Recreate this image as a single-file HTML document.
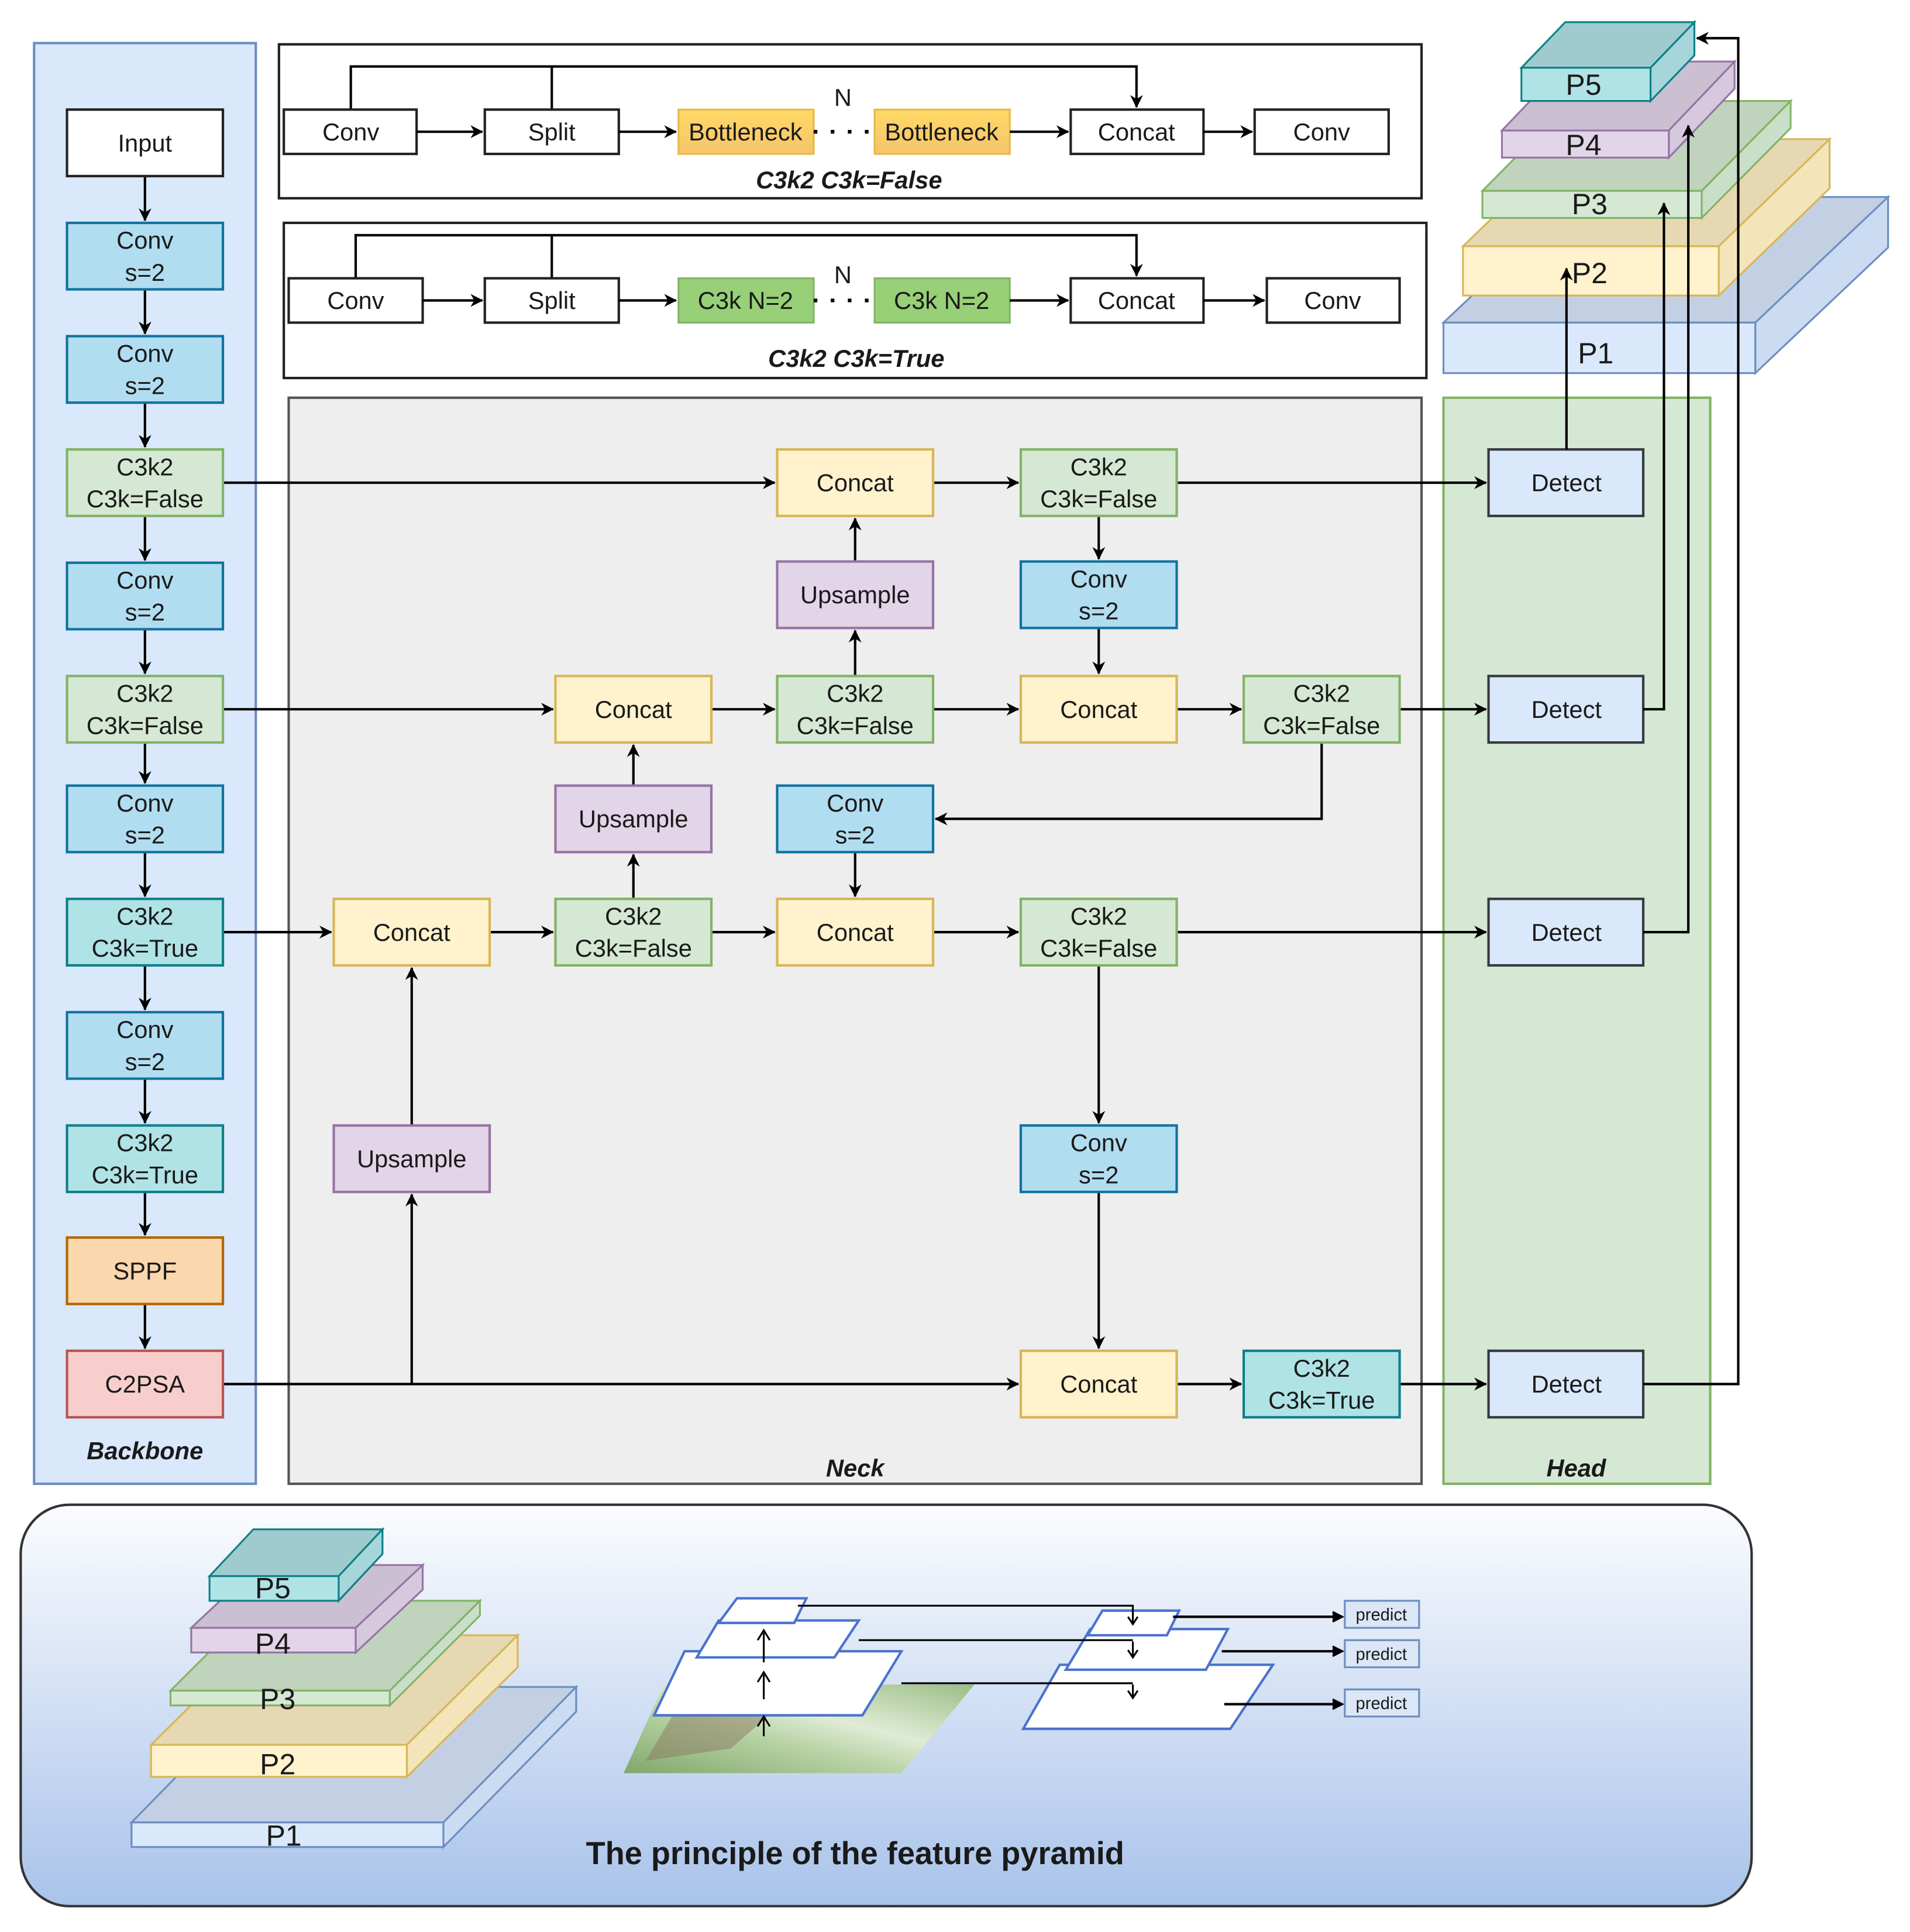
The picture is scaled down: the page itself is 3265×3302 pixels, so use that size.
<!DOCTYPE html>
<html><head><meta charset="utf-8"><style>
html,body{margin:0;padding:0;background:#fff;}
svg{display:block;}
text{font-family:"Liberation Sans",Arial,sans-serif;fill:#1a1a1a;}
</style></head><body>
<svg width="3265" height="3302" viewBox="0 0 1568 1569" preserveAspectRatio="none" xmlns="http://www.w3.org/2000/svg">
<defs>
<marker id="a" viewBox="0 0 10 10" refX="9" refY="5" markerWidth="7" markerHeight="7" orient="auto-start-reverse" markerUnits="userSpaceOnUse" style="overflow:visible">
<path d="M0,0 L10,5 L0,10 L3,5 z" fill="#000" transform="scale(1.5) translate(-3.3,-1.7)"/>
</marker>
<linearGradient id="bg" x1="0" y1="0" x2="0" y2="1"><stop offset="0" stop-color="#fbfcfe"/><stop offset="1" stop-color="#a9c3ea"/></linearGradient>
<linearGradient id="bn" x1="0" y1="0" x2="0" y2="1"><stop offset="0" stop-color="#ffd966"/><stop offset="1" stop-color="#f5c46b"/></linearGradient>
<linearGradient id="leaf" x1="0" y1="1" x2="1" y2="0"><stop offset="0" stop-color="#7fa86a"/><stop offset="0.4" stop-color="#b9d3a6"/><stop offset="0.6" stop-color="#e0ecd6"/><stop offset="1" stop-color="#9bbd86"/></linearGradient>
</defs>
<style>
.l{stroke:#000;stroke-width:2;fill:none;}
.t{font-size:20px;text-anchor:middle;}
.lb{font-size:20px;font-weight:bold;font-style:italic;text-anchor:middle;}
.pt{font-size:24px;text-anchor:middle;}
</style>

<rect x="28" y="35" width="182" height="1170" fill="#dae8fc" stroke="#6c8ebf" stroke-width="2"/>
<rect x="237" y="323" width="930" height="882" fill="#eeeeee" stroke="#555" stroke-width="2"/>
<rect x="1185" y="323" width="219" height="882" fill="#d5e8d4" stroke="#82b366" stroke-width="2"/>
<text class="lb" x="119" y="1185">Backbone</text>
<text class="lb" x="702" y="1199">Neck</text>
<text class="lb" x="1294" y="1199">Head</text>

<rect x="229" y="36" width="938" height="125" fill="#fff" stroke="#222" stroke-width="2"/>
<path class="l" d="M288,89 V54 H933 V87" marker-end="url(#a)"/>
<path class="l" d="M453,54 V89"/>
<rect x="233" y="89" width="109" height="36" fill="#fff" stroke="#222" stroke-width="2"/><text class="t" x="288" y="114">Conv</text>
<rect x="398" y="89" width="110" height="36" fill="#fff" stroke="#222" stroke-width="2"/><text class="t" x="453" y="114">Split</text>
<rect x="557" y="89" width="111" height="36" fill="url(#bn)" stroke="#e6b84a" stroke-width="1.5"/><text class="t" x="612" y="114">Bottleneck</text>
<rect x="718" y="89" width="111" height="36" fill="url(#bn)" stroke="#e6b84a" stroke-width="1.5"/><text class="t" x="773" y="114">Bottleneck</text>
<rect x="879" y="89" width="109" height="36" fill="#fff" stroke="#222" stroke-width="2"/><text class="t" x="933" y="114">Concat</text>
<rect x="1030" y="89" width="110" height="36" fill="#fff" stroke="#222" stroke-width="2"/><text class="t" x="1085" y="114">Conv</text>
<path class="l" d="M342,107 H396" marker-end="url(#a)"/>
<path class="l" d="M508,107 H555" marker-end="url(#a)"/>
<path class="l" d="M829,107 H877" marker-end="url(#a)"/>
<path class="l" d="M988,107 H1028" marker-end="url(#a)"/>
<path d="M668,107 H718" stroke="#000" stroke-width="3" stroke-dasharray="3,11"/>
<text class="t" x="692" y="86">N</text>
<text class="lb" x="697" y="153">C3k2 C3k=False</text>

<rect x="233" y="181" width="938" height="126" fill="#fff" stroke="#222" stroke-width="2"/>
<path class="l" d="M292,226 V191 H933 V224" marker-end="url(#a)"/>
<path class="l" d="M453,191 V226"/>
<rect x="237" y="226" width="110" height="36" fill="#fff" stroke="#222" stroke-width="2"/><text class="t" x="292" y="251">Conv</text>
<rect x="398" y="226" width="110" height="36" fill="#fff" stroke="#222" stroke-width="2"/><text class="t" x="453" y="251">Split</text>
<rect x="557" y="226" width="111" height="36" fill="#97d077" stroke="#82b366" stroke-width="1.5"/><text class="t" x="612" y="251">C3k N=2</text>
<rect x="718" y="226" width="111" height="36" fill="#97d077" stroke="#82b366" stroke-width="1.5"/><text class="t" x="773" y="251">C3k N=2</text>
<rect x="879" y="226" width="109" height="36" fill="#fff" stroke="#222" stroke-width="2"/><text class="t" x="933" y="251">Concat</text>
<rect x="1040" y="226" width="109" height="36" fill="#fff" stroke="#222" stroke-width="2"/><text class="t" x="1094" y="251">Conv</text>
<path class="l" d="M347,244 H396" marker-end="url(#a)"/>
<path class="l" d="M508,244 H555" marker-end="url(#a)"/>
<path class="l" d="M829,244 H877" marker-end="url(#a)"/>
<path class="l" d="M988,244 H1038" marker-end="url(#a)"/>
<path d="M668,244 H718" stroke="#000" stroke-width="3" stroke-dasharray="3,11"/>
<text class="t" x="692" y="230">N</text>
<text class="lb" x="703" y="298">C3k2 C3k=True</text>

<g marker-end="url(#a)">
<path class="l" d="M119,143 V179"/><path class="l" d="M119,235 V271"/><path class="l" d="M119,327 V363"/><path class="l" d="M119,419 V455"/><path class="l" d="M119,511 V547"/><path class="l" d="M119,603 V636"/><path class="l" d="M119,692 V728"/><path class="l" d="M119,784 V820"/><path class="l" d="M119,876 V912"/><path class="l" d="M119,968 V1003"/><path class="l" d="M119,1059 V1095"/>
</g>

<g>
<path class="l" d="M183,392 H636" marker-end="url(#a)"/>
<path class="l" d="M766,392 H836" marker-end="url(#a)"/>
<path class="l" d="M966,392 H1220" marker-end="url(#a)"/>
<path class="l" d="M902,419 V454" marker-end="url(#a)"/>
<path class="l" d="M902,510 V547" marker-end="url(#a)"/>
<path class="l" d="M702,456 V421" marker-end="url(#a)"/>
<path class="l" d="M702,549 V512" marker-end="url(#a)"/>
<path class="l" d="M183,576 H454" marker-end="url(#a)"/>
<path class="l" d="M584,576 H636" marker-end="url(#a)"/>
<path class="l" d="M766,576 H836" marker-end="url(#a)"/>
<path class="l" d="M966,576 H1019" marker-end="url(#a)"/>
<path class="l" d="M1149,576 H1220" marker-end="url(#a)"/>
<path class="l" d="M1085,603 V665 H768" marker-end="url(#a)"/>
<path class="l" d="M520,638 V605" marker-end="url(#a)"/>
<path class="l" d="M520,730 V694" marker-end="url(#a)"/>
<path class="l" d="M702,692 V728" marker-end="url(#a)"/>
<path class="l" d="M183,757 H272" marker-end="url(#a)"/>
<path class="l" d="M402,757 H454" marker-end="url(#a)"/>
<path class="l" d="M584,757 H636" marker-end="url(#a)"/>
<path class="l" d="M766,757 H836" marker-end="url(#a)"/>
<path class="l" d="M966,757 H1220" marker-end="url(#a)"/>
<path class="l" d="M902,784 V912" marker-end="url(#a)"/>
<path class="l" d="M902,968 V1095" marker-end="url(#a)"/>
<path class="l" d="M183,1124 H836" marker-end="url(#a)"/>
<path class="l" d="M338,1124 V970" marker-end="url(#a)"/>
<path class="l" d="M338,914 V786" marker-end="url(#a)"/>
<path class="l" d="M966,1124 H1019" marker-end="url(#a)"/>
<path class="l" d="M1149,1124 H1220" marker-end="url(#a)"/>
</g>

<g stroke-width="2">
<rect x="55" y="89" width="128" height="54" fill="#fff" stroke="#222"/><text class="t" x="119" y="123">Input</text>
<rect x="55" y="181" width="128" height="54" fill="#b1ddf0" stroke="#10739e"/><text class="t" x="119" y="202">Conv</text><text class="t" x="119" y="228">s=2</text>
<rect x="55" y="273" width="128" height="54" fill="#b1ddf0" stroke="#10739e"/><text class="t" x="119" y="294">Conv</text><text class="t" x="119" y="320">s=2</text>
<rect x="55" y="365" width="128" height="54" fill="#d5e8d4" stroke="#82b366"/><text class="t" x="119" y="386">C3k2</text><text class="t" x="119" y="412">C3k=False</text>
<rect x="55" y="457" width="128" height="54" fill="#b1ddf0" stroke="#10739e"/><text class="t" x="119" y="478">Conv</text><text class="t" x="119" y="504">s=2</text>
<rect x="55" y="549" width="128" height="54" fill="#d5e8d4" stroke="#82b366"/><text class="t" x="119" y="570">C3k2</text><text class="t" x="119" y="596">C3k=False</text>
<rect x="55" y="638" width="128" height="54" fill="#b1ddf0" stroke="#10739e"/><text class="t" x="119" y="659">Conv</text><text class="t" x="119" y="685">s=2</text>
<rect x="55" y="730" width="128" height="54" fill="#b0e3e6" stroke="#0e8088"/><text class="t" x="119" y="751">C3k2</text><text class="t" x="119" y="777">C3k=True</text>
<rect x="55" y="822" width="128" height="54" fill="#b1ddf0" stroke="#10739e"/><text class="t" x="119" y="843">Conv</text><text class="t" x="119" y="869">s=2</text>
<rect x="55" y="914" width="128" height="54" fill="#b0e3e6" stroke="#0e8088"/><text class="t" x="119" y="935">C3k2</text><text class="t" x="119" y="961">C3k=True</text>
<rect x="55" y="1005" width="128" height="54" fill="#fad7ac" stroke="#b46504"/><text class="t" x="119" y="1039">SPPF</text>
<rect x="55" y="1097" width="128" height="54" fill="#f8cecc" stroke="#b85450"/><text class="t" x="119" y="1131">C2PSA</text>
</g>

<g stroke-width="2">
<rect x="638" y="365" width="128" height="54" fill="#fff2cc" stroke="#d6b656"/><text class="t" x="702" y="399">Concat</text>
<rect x="838" y="365" width="128" height="54" fill="#d5e8d4" stroke="#82b366"/><text class="t" x="902" y="386">C3k2</text><text class="t" x="902" y="412">C3k=False</text>
<rect x="638" y="456" width="128" height="54" fill="#e1d5e7" stroke="#9673a6"/><text class="t" x="702" y="490">Upsample</text>
<rect x="838" y="456" width="128" height="54" fill="#b1ddf0" stroke="#10739e"/><text class="t" x="902" y="477">Conv</text><text class="t" x="902" y="503">s=2</text>
<rect x="456" y="549" width="128" height="54" fill="#fff2cc" stroke="#d6b656"/><text class="t" x="520" y="583">Concat</text>
<rect x="638" y="549" width="128" height="54" fill="#d5e8d4" stroke="#82b366"/><text class="t" x="702" y="570">C3k2</text><text class="t" x="702" y="596">C3k=False</text>
<rect x="838" y="549" width="128" height="54" fill="#fff2cc" stroke="#d6b656"/><text class="t" x="902" y="583">Concat</text>
<rect x="1021" y="549" width="128" height="54" fill="#d5e8d4" stroke="#82b366"/><text class="t" x="1085" y="570">C3k2</text><text class="t" x="1085" y="596">C3k=False</text>
<rect x="456" y="638" width="128" height="54" fill="#e1d5e7" stroke="#9673a6"/><text class="t" x="520" y="672">Upsample</text>
<rect x="638" y="638" width="128" height="54" fill="#b1ddf0" stroke="#10739e"/><text class="t" x="702" y="659">Conv</text><text class="t" x="702" y="685">s=2</text>
<rect x="274" y="730" width="128" height="54" fill="#fff2cc" stroke="#d6b656"/><text class="t" x="338" y="764">Concat</text>
<rect x="456" y="730" width="128" height="54" fill="#d5e8d4" stroke="#82b366"/><text class="t" x="520" y="751">C3k2</text><text class="t" x="520" y="777">C3k=False</text>
<rect x="638" y="730" width="128" height="54" fill="#fff2cc" stroke="#d6b656"/><text class="t" x="702" y="764">Concat</text>
<rect x="838" y="730" width="128" height="54" fill="#d5e8d4" stroke="#82b366"/><text class="t" x="902" y="751">C3k2</text><text class="t" x="902" y="777">C3k=False</text>
<rect x="274" y="914" width="128" height="54" fill="#e1d5e7" stroke="#9673a6"/><text class="t" x="338" y="948">Upsample</text>
<rect x="838" y="914" width="128" height="54" fill="#b1ddf0" stroke="#10739e"/><text class="t" x="902" y="935">Conv</text><text class="t" x="902" y="961">s=2</text>
<rect x="838" y="1097" width="128" height="54" fill="#fff2cc" stroke="#d6b656"/><text class="t" x="902" y="1131">Concat</text>
<rect x="1021" y="1097" width="128" height="54" fill="#b0e3e6" stroke="#0e8088"/><text class="t" x="1085" y="1118">C3k2</text><text class="t" x="1085" y="1144">C3k=True</text>
<rect x="1222" y="365" width="127" height="54" fill="#dae8fc" stroke="#36393d"/><text class="t" x="1286" y="399">Detect</text>
<rect x="1222" y="549" width="127" height="54" fill="#dae8fc" stroke="#36393d"/><text class="t" x="1286" y="583">Detect</text>
<rect x="1222" y="730" width="127" height="54" fill="#dae8fc" stroke="#36393d"/><text class="t" x="1286" y="764">Detect</text>
<rect x="1222" y="1097" width="127" height="54" fill="#dae8fc" stroke="#36393d"/><text class="t" x="1286" y="1131">Detect</text>
</g>

<g stroke-width="1.5">
<polygon points="1185,262 1441,262 1550,160 1294,160" fill="#c3d0e3" stroke="#6c8ebf"/>
<polygon points="1441,262 1550,160 1550,201 1441,303" fill="#cbdbf2" stroke="#6c8ebf"/>
<rect x="1185" y="262" width="256" height="41" fill="#dae8fc" stroke="#6c8ebf"/>
<polygon points="1201,200 1411,200 1502,113 1292,113" fill="#e6d8b2" stroke="#d6b656"/>
<polygon points="1411,200 1502,113 1502,153 1411,240" fill="#f3e4ba" stroke="#d6b656"/>
<rect x="1201" y="200" width="210" height="40" fill="#fff2cc" stroke="#d6b656"/>
<polygon points="1217,155 1397,155 1470,82 1290,82" fill="#bfd3bd" stroke="#82b366"/>
<polygon points="1397,155 1470,82 1470,104 1397,177" fill="#c9dfc7" stroke="#82b366"/>
<rect x="1217" y="155" width="180" height="22" fill="#d5e8d4" stroke="#82b366"/>
<polygon points="1233,106 1370,106 1424,50 1287,50" fill="#cbbfd2" stroke="#9673a6"/>
<polygon points="1370,106 1424,50 1424,72 1370,128" fill="#d6c9dd" stroke="#9673a6"/>
<rect x="1233" y="106" width="137" height="22" fill="#e1d5e7" stroke="#9673a6"/>
<polygon points="1249,55 1355,55 1391,18 1285,18" fill="#9fcbce" stroke="#0e8088"/>
<polygon points="1355,55 1391,18 1391,45 1355,82" fill="#a6d6d9" stroke="#0e8088"/>
<rect x="1249" y="55" width="106" height="27" fill="#b0e3e6" stroke="#0e8088"/>
</g>
<text class="pt" x="1310" y="295">P1</text>
<text class="pt" x="1305" y="230">P2</text>
<text class="pt" x="1305" y="174">P3</text>
<text class="pt" x="1300" y="126">P4</text>
<text class="pt" x="1300" y="77">P5</text>
<path class="l" d="M1286,365 V218" marker-end="url(#a)"/>
<path class="l" d="M1349,576 H1366 V165" marker-end="url(#a)"/>
<path class="l" d="M1349,757 H1386 V102" marker-end="url(#a)"/>
<path class="l" d="M1349,1124 H1427 V31 H1393" marker-end="url(#a)"/>

<rect x="17" y="1222" width="1421" height="326" rx="40" ry="40" fill="url(#bg)" stroke="#333" stroke-width="2"/>
<g stroke-width="1.5">
<polygon points="108,1480 364,1480 473,1370 217,1370" fill="#c3d0e3" stroke="#6c8ebf"/>
<polygon points="364,1480 473,1370 473,1390 364,1500" fill="#cbdbf2" stroke="#6c8ebf"/>
<rect x="108" y="1480" width="256" height="20" fill="#dae8fc" stroke="#6c8ebf"/>
<polygon points="124,1417 334,1417 425,1328 215,1328" fill="#e6d8b2" stroke="#d6b656"/>
<polygon points="334,1417 425,1328 425,1354 334,1443" fill="#f3e4ba" stroke="#d6b656"/>
<rect x="124" y="1417" width="210" height="26" fill="#fff2cc" stroke="#d6b656"/>
<polygon points="140,1373 320,1373 394,1300 214,1300" fill="#bfd3bd" stroke="#82b366"/>
<polygon points="320,1373 394,1300 394,1312 320,1385" fill="#c9dfc7" stroke="#82b366"/>
<rect x="140" y="1373" width="180" height="12" fill="#d5e8d4" stroke="#82b366"/>
<polygon points="157,1322 292,1322 347,1271 212,1271" fill="#cbbfd2" stroke="#9673a6"/>
<polygon points="292,1322 347,1271 347,1291 292,1342" fill="#d6c9dd" stroke="#9673a6"/>
<rect x="157" y="1322" width="135" height="20" fill="#e1d5e7" stroke="#9673a6"/>
<polygon points="172,1280 278,1280 314,1242 208,1242" fill="#9fcbce" stroke="#0e8088"/>
<polygon points="278,1280 314,1242 314,1262 278,1300" fill="#a6d6d9" stroke="#0e8088"/>
<rect x="172" y="1280" width="106" height="20" fill="#b0e3e6" stroke="#0e8088"/>
</g>
<text class="pt" x="233" y="1499">P1</text>
<text class="pt" x="228" y="1441">P2</text>
<text class="pt" x="228" y="1388">P3</text>
<text class="pt" x="224" y="1343">P4</text>
<text class="pt" x="224" y="1298">P5</text>

<polygon points="545,1368 800,1368 740,1440 512,1440" fill="url(#leaf)"/>
<polygon points="560,1380 660,1368 600,1420 530,1430" fill="#8a7a62" opacity="0.5"/>
<g fill="#fff" stroke="#4a72cc" stroke-width="2">
<polygon points="562,1341 740,1341 708,1393 537,1393"/>
<polygon points="590,1316 705,1316 685,1346 572,1346"/>
<polygon points="605,1298 662,1298 652,1318 590,1318"/>
<polygon points="870,1352 1045,1352 1010,1404 840,1404"/>
<polygon points="895,1323 1008,1323 990,1356 875,1356"/>
<polygon points="905,1308 968,1308 958,1328 893,1328"/>
</g>
<g stroke="#000" stroke-width="1.5" fill="none">
<path d="M627,1380 V1360 M627,1350 V1326 M627,1410 V1396"/>
<path d="M622,1366 L627,1358 L632,1366 M622,1332 L627,1324 L632,1332 M622,1402 L627,1394 L632,1402"/>
<path d="M655,1304 H930 V1318 M705,1332 H930 M740,1367 H930 M930,1333 V1345 M930,1368 V1378"/>
<path d="M926,1313 L930,1319 L934,1313 M926,1340 L930,1346 L934,1340 M926,1373 L930,1379 L934,1373"/>
<path d="M963,1313 H1100 M1003,1341 H1100 M1005,1384 H1100" stroke-width="2"/>
<path d="M1094,1309 L1102,1313 L1094,1317 M1094,1337 L1102,1341 L1094,1345 M1094,1380 L1102,1384 L1094,1388" fill="#000"/>
</g>
<g fill="#dbe6f6" stroke="#6c8ebf" stroke-width="1.5">
<rect x="1104" y="1300" width="61" height="22"/>
<rect x="1104" y="1332" width="61" height="22"/>
<rect x="1104" y="1372" width="61" height="22"/>
</g>
<g font-size="14" text-anchor="middle"><text x="1134" y="1316">predict</text><text x="1134" y="1348">predict</text><text x="1134" y="1388">predict</text></g>
<text x="702" y="1514" font-size="26" font-weight="bold" text-anchor="middle">The principle of the feature pyramid</text>
</svg>
</body></html>
